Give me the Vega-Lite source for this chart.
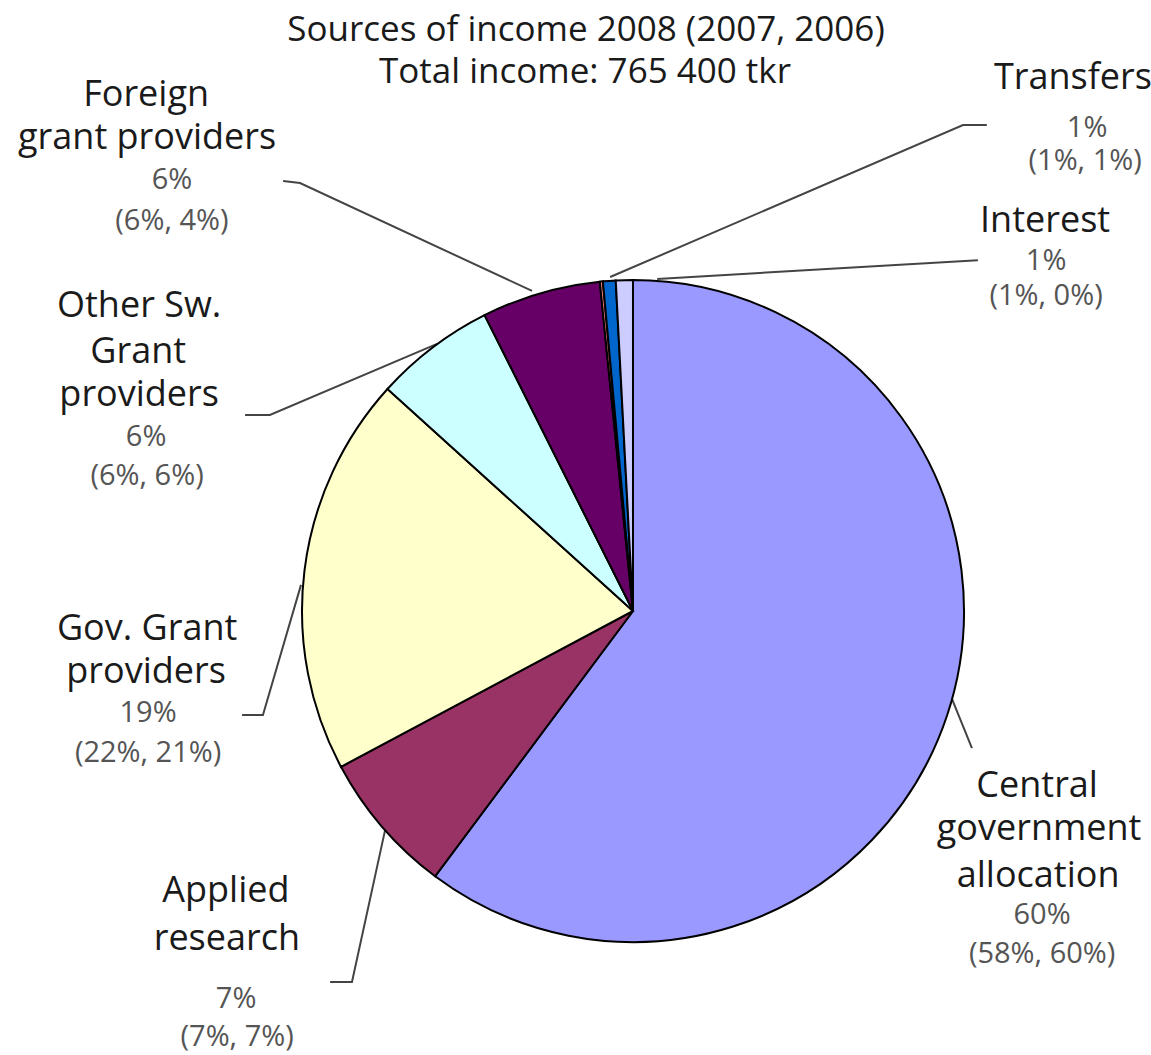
{
  "$schema": "https://vega.github.io/schema/vega-lite/v6.json",
  "width": 1151,
  "height": 1055,
  "padding": 0,
  "autosize": {"type": "none"},
  "background": "white",
  "config": {"view": {"stroke": null}},
  "datasets": {
    "slices": [
      {"name": "Central government allocation", "value": 60.2, "ord": 1},
      {"name": "Applied research", "value": 7.0, "ord": 2},
      {"name": "Gov. Grant providers", "value": 19.5, "ord": 3},
      {"name": "Other Sw. Grant providers", "value": 5.9, "ord": 4},
      {"name": "Foreign grant providers", "value": 5.8, "ord": 5},
      {"name": "Other", "value": 0.15, "ord": 6},
      {"name": "Transfers", "value": 0.62, "ord": 7},
      {"name": "Interest", "value": 0.83, "ord": 8}
    ],
    "labels": [
      {"t": "Sources of income 2008 (2007, 2006)", "kind": "title", "lx": -0.142, "ly": 1.755},
      {"t": "Total income: 765 400 tkr", "kind": "title", "lx": -0.145, "ly": 1.628},
      {"t": "Foreign", "kind": "name", "lx": -1.471, "ly": 1.559},
      {"t": "grant providers", "kind": "name", "lx": -1.468, "ly": 1.429},
      {"t": "6%", "kind": "pct", "lx": -1.393, "ly": 1.302},
      {"t": "(6%, 4%)", "kind": "pct", "lx": -1.393, "ly": 1.178},
      {"t": "Transfers", "kind": "name", "lx": 1.329, "ly": 1.610},
      {"t": "1%", "kind": "pct", "lx": 1.372, "ly": 1.459},
      {"t": "(1%, 1%)", "kind": "pct", "lx": 1.366, "ly": 1.360},
      {"t": "Interest", "kind": "name", "lx": 1.245, "ly": 1.178},
      {"t": "1%", "kind": "pct", "lx": 1.248, "ly": 1.057},
      {"t": "(1%, 0%)", "kind": "pct", "lx": 1.248, "ly": 0.952},
      {"t": "Other Sw.", "kind": "name", "lx": -1.492, "ly": 0.921},
      {"t": "Grant", "kind": "name", "lx": -1.495, "ly": 0.782},
      {"t": "providers", "kind": "name", "lx": -1.492, "ly": 0.653},
      {"t": "6%", "kind": "pct", "lx": -1.471, "ly": 0.526},
      {"t": "(6%, 6%)", "kind": "pct", "lx": -1.468, "ly": 0.408},
      {"t": "Gov. Grant", "kind": "name", "lx": -1.468, "ly": -0.054},
      {"t": "providers", "kind": "name", "lx": -1.471, "ly": -0.184},
      {"t": "19%", "kind": "pct", "lx": -1.465, "ly": -0.308},
      {"t": "(22%, 21%)", "kind": "pct", "lx": -1.465, "ly": -0.429},
      {"t": "Applied", "kind": "name", "lx": -1.230, "ly": -0.846},
      {"t": "research", "kind": "name", "lx": -1.227, "ly": -0.991},
      {"t": "7%", "kind": "pct", "lx": -1.199, "ly": -1.172},
      {"t": "(7%, 7%)", "kind": "pct", "lx": -1.196, "ly": -1.287},
      {"t": "Central", "kind": "name", "lx": 1.221, "ly": -0.529},
      {"t": "government", "kind": "name", "lx": 1.227, "ly": -0.659},
      {"t": "allocation", "kind": "name", "lx": 1.224, "ly": -0.801},
      {"t": "60%", "kind": "pct", "lx": 1.236, "ly": -0.918},
      {"t": "(58%, 60%)", "kind": "pct", "lx": 1.236, "ly": -1.036}
    ],
    "leaders": [
      {"g": "Foreign", "i": 1, "px": -1.057, "py": 1.299},
      {"g": "Foreign", "i": 2, "px": -1.006, "py": 1.293},
      {"g": "Foreign", "i": 3, "px": -0.305, "py": 0.967},
      {"g": "Transfers", "i": 1, "px": 1.069, "py": 1.468},
      {"g": "Transfers", "i": 2, "px": 0.997, "py": 1.468},
      {"g": "Transfers", "i": 3, "px": -0.069, "py": 1.009},
      {"g": "Interest", "i": 1, "px": 1.042, "py": 1.060},
      {"g": "Interest", "i": 2, "px": 0.073, "py": 1.003},
      {"g": "OtherSw", "i": 1, "px": -1.172, "py": 0.592},
      {"g": "OtherSw", "i": 2, "px": -1.097, "py": 0.592},
      {"g": "OtherSw", "i": 3, "px": -0.592, "py": 0.807},
      {"g": "Gov", "i": 1, "px": -1.181, "py": -0.314},
      {"g": "Gov", "i": 2, "px": -1.118, "py": -0.314},
      {"g": "Gov", "i": 3, "px": -1.003, "py": 0.079},
      {"g": "Applied", "i": 1, "px": -0.915, "py": -1.121},
      {"g": "Applied", "i": 2, "px": -0.849, "py": -1.121},
      {"g": "Applied", "i": 3, "px": -0.749, "py": -0.662},
      {"g": "Central", "i": 1, "px": 0.964, "py": -0.266},
      {"g": "Central", "i": 2, "px": 1.024, "py": -0.414}
    ]
  },
  "layer": [
    {
      "data": {"name": "leaders"},
      "mark": {"type": "line", "color": "#444444", "strokeWidth": 2},
      "encoding": {
        "x": {"field": "px", "type": "quantitative", "scale": {"domain": [-1.9124, 1.565], "nice": false, "zero": false}, "axis": null},
        "y": {"field": "py", "type": "quantitative", "scale": {"domain": [-1.3414, 1.8459], "nice": false, "zero": false}, "axis": null},
        "detail": {"field": "g"},
        "order": {"field": "i"}
      }
    },
    {
      "data": {"name": "slices"},
      "mark": {"type": "arc", "outerRadius": 331, "stroke": "#000000", "strokeWidth": 2},
      "encoding": {
        "x": {"datum": 0, "type": "quantitative"},
        "y": {"datum": 0, "type": "quantitative"},
        "theta": {"field": "value", "type": "quantitative", "stack": true},
        "order": {"field": "ord"},
        "color": {
          "field": "name",
          "type": "nominal",
          "legend": null,
          "scale": {
            "domain": ["Central government allocation", "Applied research", "Gov. Grant providers", "Other Sw. Grant providers", "Foreign grant providers", "Other", "Transfers", "Interest"],
            "range": ["#9999FF", "#993366", "#FFFFCC", "#CCFFFF", "#660066", "#FF8080", "#0066CC", "#CCCCFF"]
          }
        }
      }
    },
    {
      "data": {"name": "labels"},
      "transform": [{"filter": "datum.kind === 'title'"}],
      "mark": {"type": "text", "font": "Open Sans", "fontSize": 35, "color": "#1a1a1a", "align": "center", "baseline": "middle"},
      "encoding": {
        "x": {"field": "lx", "type": "quantitative"},
        "y": {"field": "ly", "type": "quantitative"},
        "text": {"field": "t"}
      }
    },
    {
      "data": {"name": "labels"},
      "transform": [{"filter": "datum.kind === 'name'"}],
      "mark": {"type": "text", "font": "Open Sans", "fontSize": 36, "color": "#1a1a1a", "align": "center", "baseline": "middle"},
      "encoding": {
        "x": {"field": "lx", "type": "quantitative"},
        "y": {"field": "ly", "type": "quantitative"},
        "text": {"field": "t"}
      }
    },
    {
      "data": {"name": "labels"},
      "transform": [{"filter": "datum.kind === 'pct'"}],
      "mark": {"type": "text", "font": "Open Sans", "fontSize": 29, "color": "#555555", "align": "center", "baseline": "middle"},
      "encoding": {
        "x": {"field": "lx", "type": "quantitative"},
        "y": {"field": "ly", "type": "quantitative"},
        "text": {"field": "t"}
      }
    }
  ]
}
